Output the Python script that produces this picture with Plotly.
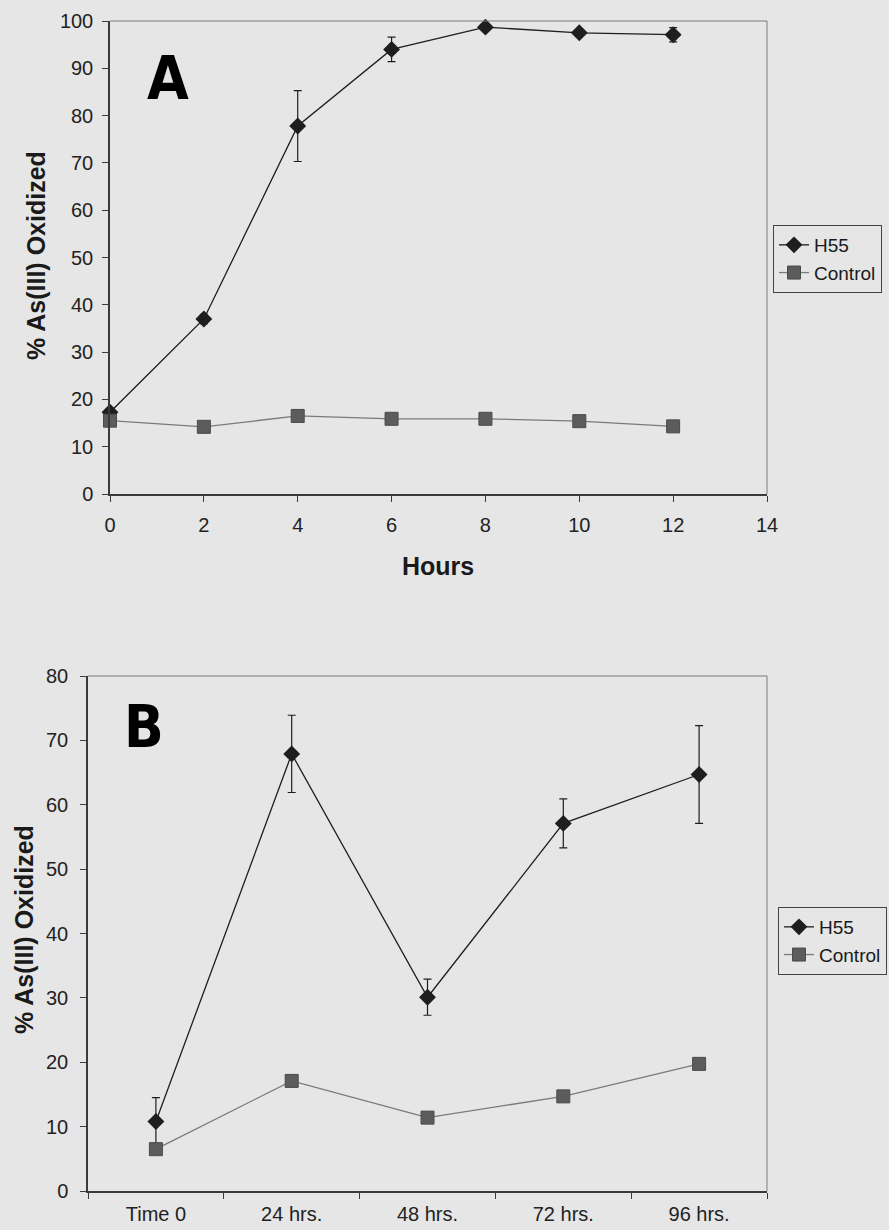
import plotly.graph_objects as go

# ---------------- data ----------------
hours = [0, 2, 4, 6, 8, 10, 12]
a_h55 = [17.3, 37.0, 77.8, 94.0, 98.7, 97.5, 97.1]
a_h55_err = [0.8, 1.0, 7.5, 2.6, 0.5, 0.6, 1.5]
a_control = [15.5, 14.2, 16.5, 15.9, 15.9, 15.4, 14.3]

days = ["Time 0", "24 hrs.", "48 hrs.", "72 hrs.", "96 hrs."]
b_h55 = [10.8, 67.9, 30.1, 57.1, 64.7]
b_h55_err = [3.7, 6.0, 2.8, 3.8, 7.6]
b_control = [6.5, 17.1, 11.4, 14.7, 19.75]

x_ticks_a = [0, 2, 4, 6, 8, 10, 12, 14]
y_ticks_a = list(range(0, 101, 10))
y_ticks_b = list(range(0, 81, 10))

# ---------------- style ----------------
W, H = 889, 1230
BG = "#e6e6e6"
FONT = "Liberation Sans, Arial, sans-serif"
H55_COL = "#1e1e1e"
CTRL_FILL = "#5c5c5c"
CTRL_LINE = "#7a7a7a"
AX_COL = "#3a3a3a"


def px_x(p):
    return p / W


def px_y(p):
    return 1 - p / H


fig = go.Figure()

# Panel A
fig.add_trace(go.Scatter(
    x=hours, y=a_h55, name="H55", mode="lines+markers",
    line=dict(color=H55_COL, width=1.3),
    marker=dict(symbol="diamond", size=13, color=H55_COL),
    error_y=dict(type="data", array=a_h55_err, color=H55_COL, thickness=1.2, width=4),
    xaxis="x", yaxis="y", legend="legend", cliponaxis=False))
fig.add_trace(go.Scatter(
    x=hours, y=a_control, name="Control", mode="lines+markers",
    line=dict(color=CTRL_LINE, width=1.3),
    marker=dict(symbol="square", size=13, color=CTRL_FILL,
                line=dict(color="#4a4a4a", width=1)),
    xaxis="x", yaxis="y", legend="legend", cliponaxis=False))

# Panel B
fig.add_trace(go.Scatter(
    x=days, y=b_h55, name="H55", mode="lines+markers",
    line=dict(color=H55_COL, width=1.3),
    marker=dict(symbol="diamond", size=13, color=H55_COL),
    error_y=dict(type="data", array=b_h55_err, color=H55_COL, thickness=1.2, width=4),
    xaxis="x2", yaxis="y2", legend="legend2", cliponaxis=False))
fig.add_trace(go.Scatter(
    x=days, y=b_control, name="Control", mode="lines+markers",
    line=dict(color=CTRL_LINE, width=1.3),
    marker=dict(symbol="square", size=13, color=CTRL_FILL,
                line=dict(color="#4a4a4a", width=1)),
    xaxis="x2", yaxis="y2", legend="legend2", cliponaxis=False))

axis_common = dict(
    showgrid=False, zeroline=False, showline=True, linecolor=AX_COL, linewidth=1.5,
    ticks="outside", ticklen=6, tickwidth=1.3, tickcolor=AX_COL,
    tickfont=dict(family=FONT, size=20, color="#222222"),
)

fig.update_layout(
    width=W, height=H,
    margin=dict(l=0, r=0, t=0, b=0, autoexpand=False),
    paper_bgcolor=BG, plot_bgcolor=BG,
    font=dict(family=FONT, color="#222222"),
    xaxis=dict(domain=[px_x(110), px_x(767)], anchor="y", range=[0, 14],
               tickvals=x_ticks_a, ticklabelstandoff=6, **axis_common),
    yaxis=dict(domain=[px_y(494), px_y(21)], anchor="x", range=[0, 100],
               tickvals=y_ticks_a, ticklabelstandoff=5, **axis_common),
    xaxis2=dict(domain=[px_x(88), px_x(767)], anchor="y2", type="category",
                categoryorder="array", categoryarray=days, range=[-0.5, 4.5],
                tickson="boundaries", ticklabelstandoff=4, **axis_common),
    yaxis2=dict(domain=[px_y(1191), px_y(676)], anchor="x2", range=[0, 80],
                tickvals=y_ticks_b, ticklabelstandoff=8, **axis_common),
    legend=dict(x=px_x(773), y=px_y(225), xanchor="left", yanchor="top",
                bgcolor=BG, bordercolor="#444444", borderwidth=1,
                font=dict(family=FONT, size=19, color="#1a1a1a"),
                itemwidth=30, tracegroupgap=0),
    legend2=dict(x=px_x(778), y=px_y(907), xanchor="left", yanchor="top",
                 bgcolor=BG, bordercolor="#444444", borderwidth=1,
                 font=dict(family=FONT, size=19, color="#1a1a1a"),
                 itemwidth=30, tracegroupgap=0),
    showlegend=True,
)

# thin top/right frame lines
for xr, yr in (("x domain", "y domain"), ("x2 domain", "y2 domain")):
    fig.add_shape(type="line", xref=xr, yref=yr, x0=0, x1=1, y0=1, y1=1,
                  line=dict(color="#7a7a7a", width=1))
    fig.add_shape(type="line", xref=xr, yref=yr, x0=1, x1=1, y0=0, y1=1,
                  line=dict(color="#7a7a7a", width=1))

# titles and panel letters
fig.add_annotation(text="<b>Hours</b>", x=px_x(438), y=px_y(566), xref="paper", yref="paper",
                   showarrow=False, font=dict(family=FONT, size=25, color="#1a1a1a"),
                   xanchor="center", yanchor="middle")
fig.add_annotation(text="<b>% As(III) Oxidized</b>", x=px_x(36), y=px_y(256),
                   xref="paper", yref="paper", textangle=-90, showarrow=False,
                   font=dict(family=FONT, size=25, color="#1a1a1a"),
                   xanchor="center", yanchor="middle")
fig.add_annotation(text="<b>% As(III) Oxidized</b>", x=px_x(24), y=px_y(930),
                   xref="paper", yref="paper", textangle=-90, showarrow=False,
                   font=dict(family=FONT, size=25, color="#1a1a1a"),
                   xanchor="center", yanchor="middle")
fig.add_annotation(text="<b>A</b>", x=px_x(168), y=px_y(78), xref="paper", yref="paper",
                   showarrow=False,
                   font=dict(family="DejaVu Sans Condensed, sans-serif",
                             size=60, color="#000000"),
                   xanchor="center", yanchor="middle")
fig.add_annotation(text="<b>B</b>", x=px_x(144), y=px_y(727), xref="paper", yref="paper",
                   showarrow=False,
                   font=dict(family="DejaVu Sans Condensed, sans-serif",
                             size=58, color="#000000"),
                   xanchor="center", yanchor="middle")

fig.write_html("out.html")
